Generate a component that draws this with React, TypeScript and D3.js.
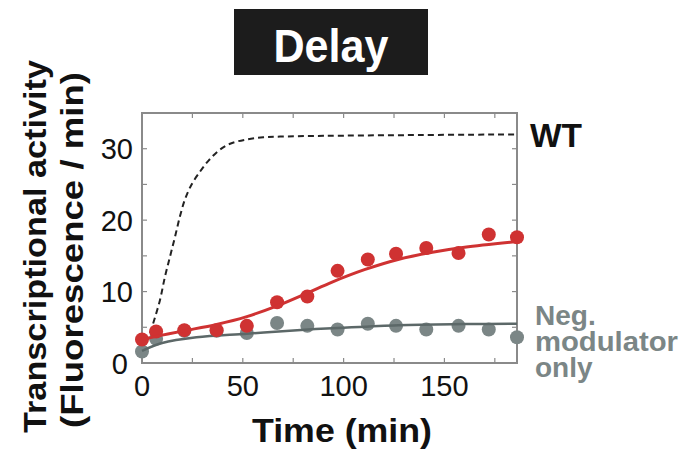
import React from "react";
import * as d3 from "d3";

const sampleTimes = [0, 7, 21, 37, 52, 67, 82, 97, 112, 126, 141, 157, 172, 186];
const redValues = [3.3, 4.4, 4.6, 4.6, 5.2, 8.5, 9.3, 12.9, 14.5, 15.3, 16.1, 15.4, 18.0, 17.6];
const grayValues = [1.6, 3.4, 4.5, 4.5, 4.2, 5.6, 5.2, 4.7, 5.5, 5.2, 4.7, 5.2, 4.7, 3.6];

const redFitT = [0, 10, 20.7, 37, 52, 67, 82, 94, 110.7, 127, 144, 160, 186];
const redFitV = [3.3, 3.9, 4.5, 5.4, 6.5, 8.0, 9.8, 11.3, 13.1, 14.5, 15.5, 16.2, 17.0];
const grayFitT = [0, 10, 27, 52, 77, 97, 127, 160, 186];
const grayFitV = [1.7, 2.8, 3.6, 4.1, 4.6, 4.9, 5.3, 5.45, 5.5];
const wtT = [4, 5.6, 8.9, 11.4, 13.9, 16.4, 18.8, 21.3, 24.6, 28.8, 32.9, 37.9, 43.7, 51.9, 60.2, 68.5, 90, 130, 186];
const wtV = [4.2, 5.6, 8.8, 12.1, 14.9, 17.7, 20.5, 22.9, 25.0, 26.8, 28.3, 29.7, 30.7, 31.3, 31.6, 31.7, 31.8, 31.9, 32.0];

const xTickLabels = [0, 50, 100, 150];
const yTickLabels = [0, 10, 20, 30];
const xMinor = [0, 25, 50, 75, 100, 125, 150, 175];
const yMinor = [0, 5, 10, 15, 20, 25, 30, 35];

const RED = "#cf3232";
const GRAY_PT = "#7b8686";
const GRAY_LN = "#5c6868";
const FONT = "'Liberation Sans', Arial, Helvetica, sans-serif";

export default function App() {
  const L = 142, R = 517, T = 113, B = 363;
  const x = d3.scaleLinear().domain([0, 186]).range([L, R]);
  const y = d3.scaleLinear().domain([0, 35]).range([B, T]);
  const line = d3
    .line<[number, number]>()
    .x((d) => x(d[0]))
    .y((d) => y(d[1]))
    .curve(d3.curveCatmullRom.alpha(0.5));
  const zip = (a: number[], b: number[]) => a.map((v, i) => [v, b[i]] as [number, number]);
  const tk = 5;
  return (
    <svg width={694} height={455} style={{ display: "block", position: "absolute", left: 0, top: 0 }} fontFamily={FONT}>
      <rect x={0} y={0} width={694} height={455} fill="#fff" />
      {/* title */}
      <rect x={234} y={9} width={194} height={66} fill="#1c1c1c" />
      <text x={331} y={62} textAnchor="middle" fill="#fff" fontWeight="bold" fontSize={46} textLength={115} lengthAdjust="spacingAndGlyphs">
        Delay
      </text>
      {/* frame */}
      <rect x={L} y={T} width={R - L} height={B - T} fill="none" stroke="#8a8a8a" strokeWidth={2} />
      {xMinor.map((v) => (
        <g key={"xm" + v} stroke="#8a8a8a" strokeWidth={1.2}>
          <line x1={x(v)} x2={x(v)} y1={B} y2={B - tk} />
          <line x1={x(v)} x2={x(v)} y1={T} y2={T + tk} />
        </g>
      ))}
      {yMinor.map((v) => (
        <g key={"ym" + v} stroke="#8a8a8a" strokeWidth={1.2}>
          <line x1={L} x2={L + tk} y1={y(v)} y2={y(v)} />
          <line x1={R} x2={R - tk} y1={y(v)} y2={y(v)} />
        </g>
      ))}
      {/* WT dashed */}
      <path d={line(zip(wtT, wtV)) || ""} fill="none" stroke="#222" strokeWidth={2} strokeDasharray="6,4" />
      {/* gray */}
      {sampleTimes.map((t, i) => (
        <circle key={"g" + i} cx={x(t)} cy={y(grayValues[i])} r={7} fill={GRAY_PT} />
      ))}
      <path d={line(zip(grayFitT, grayFitV)) || ""} fill="none" stroke={GRAY_LN} strokeWidth={2.5} />
      {/* red */}
      {sampleTimes.map((t, i) => (
        <circle key={"r" + i} cx={x(t)} cy={y(redValues[i])} r={7} fill={RED} />
      ))}
      <path d={line(zip(redFitT, redFitV)) || ""} fill="none" stroke={RED} strokeWidth={3} />
      {/* tick labels */}
      {yTickLabels.map((v) => (
        <text key={"yl" + v} x={v === 0 ? 128 : 133} y={y(v) + (v === 0 ? 1 : 0)} dy="0.36em" textAnchor="end" fontSize={29} fill="#111">
          {v}
        </text>
      ))}
      {xTickLabels.map((v) => (
        <text key={"xl" + v} x={x(v)} y={396} textAnchor="middle" fontSize={29} fill="#111">
          {v}
        </text>
      ))}
      {/* axis titles */}
      <text x={342} y={442} textAnchor="middle" fontWeight="bold" fontSize={34} textLength={180} lengthAdjust="spacingAndGlyphs" fill="#111">
        Time (min)
      </text>
      <g transform="translate(46,246.5) rotate(-90)">
        <text x={0} y={0} textAnchor="middle" fontWeight="bold" fontSize={31} textLength={373} lengthAdjust="spacingAndGlyphs" fill="#111">
          Transcriptional activity
        </text>
      </g>
      <g transform="translate(83,250) rotate(-90)">
        <text x={0} y={0} textAnchor="middle" fontWeight="bold" fontSize={31} textLength={356} lengthAdjust="spacingAndGlyphs" fill="#111">
          (Fluorescence / min)
        </text>
      </g>
      {/* series labels */}
      <text x={530} y={147} fontWeight="bold" fontSize={33} textLength={52} lengthAdjust="spacingAndGlyphs" fill="#111">
        WT
      </text>
      <g fill={GRAY_PT} fontWeight="bold" fontSize={28}>
        <text x={535} y={325}>Neg.</text>
        <text x={535} y={351} textLength={143} lengthAdjust="spacingAndGlyphs">modulator</text>
        <text x={535} y={377}>only</text>
      </g>
    </svg>
  );
}
